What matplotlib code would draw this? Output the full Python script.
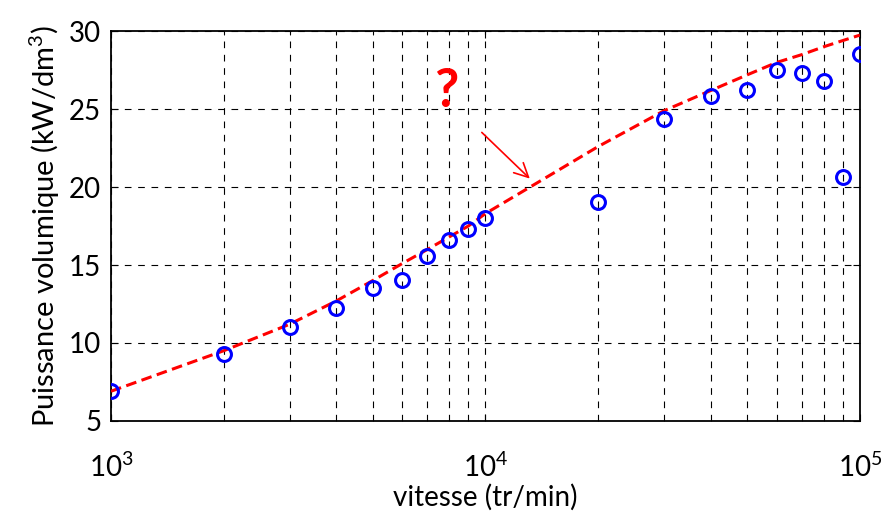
import numpy as np
import matplotlib
matplotlib.use('Agg')
import matplotlib.pyplot as plt
from matplotlib.ticker import LogLocator, NullFormatter

plt.rcParams['font.family'] = ['Lato', 'DejaVu Sans']
plt.rcParams['mathtext.default'] = 'regular'

# Données
vitesse = [1000, 2000, 3000, 4000, 5000, 6000, 7000, 8000, 9000, 10000,
           20000, 30000, 40000, 50000, 60000, 70000, 80000, 90000, 100000]
puissance = [6.9, 9.27, 11.03, 12.23, 13.52, 14.05, 15.6, 16.6, 17.31, 18.02,
             19.07, 24.38, 25.82, 26.25, 27.49, 27.32, 26.78, 20.63, 28.57]
# Courbe de tendance (rouge, tirets)
tendance = [6.9, 9.5, 11.2, 12.7, 14.0, 15.1, 16.0, 16.8, 17.5, 18.3,
            22.6, 24.9, 26.2, 27.2, 28.0, 28.5, 29.0, 29.4, 29.75]

fig = plt.figure(figsize=(8.81, 5.12), dpi=100)
ax = fig.add_axes([0.126, 0.178, 0.85, 0.761])

ax.plot(vitesse, tendance, color='red', lw=2.2, dashes=(3.5, 1.8), zorder=3)
ax.plot(vitesse, puissance, 'o', mfc='none', mec='blue', ms=10, mew=2.2, zorder=4)

ax.set_xscale('log')
ax.set_xlim(1e3, 1e5)
ax.set_ylim(5, 30)
ax.set_yticks([5, 10, 15, 20, 25, 30])
ax.xaxis.set_minor_locator(LogLocator(base=10, subs=np.arange(2, 10)))
ax.xaxis.set_minor_formatter(NullFormatter())

ax.grid(True, which='major', color='black', ls=(0, (6, 6)), lw=0.8)
ax.grid(True, which='minor', axis='x', color='black', ls=(0, (6, 6)), lw=0.8)

ax.tick_params(which='both', direction='in', top=True, right=True, labelsize=20)
ax.tick_params(which='major', length=5)
ax.tick_params(which='minor', length=3)
ax.tick_params(axis='x', pad=23)
ax.tick_params(axis='y', pad=7)
for s in ax.spines.values():
    s.set_linewidth(1.3)

ax.set_xlabel('vitesse (tr/min)', fontsize=20, labelpad=1)
ax.set_ylabel('Puissance volumique (kW/dm$^3$)', fontsize=21, labelpad=5)

ax.text(7845, 26.14, '?', color='red', fontsize=38, fontweight='bold',
        ha='center', va='center')
ax.annotate('', xy=(13300, 20.42), xytext=(9660, 23.63),
            arrowprops=dict(arrowstyle='->', color='red', lw=1.2,
                            mutation_scale=25))

fig.savefig('out.png', dpi=100)
